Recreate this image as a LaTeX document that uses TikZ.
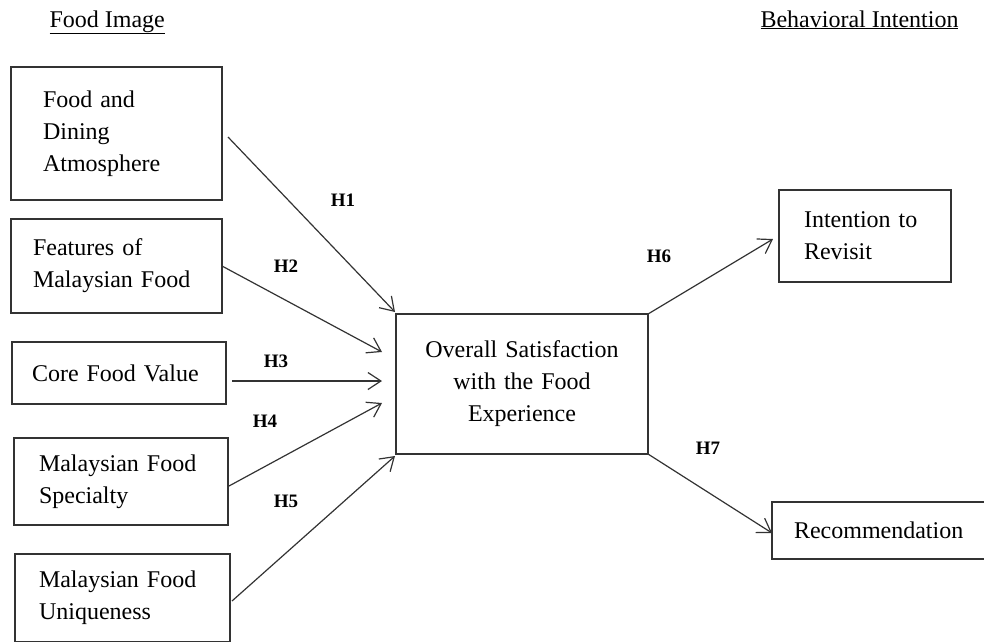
\documentclass[tikz,border=0pt]{standalone}
\usepackage{fontspec}
\setmainfont{Liberation Serif}
\usetikzlibrary{arrows.meta}
\begin{document}
\begin{tikzpicture}[x=1pt,y=-1pt,
  box/.style={draw=black!80, line width=1.3pt, outer sep=0pt, inner ysep=0pt,
              anchor=north west, font=\fontsize{24}{32}\selectfont, align=left},
  arr/.style={draw=black!80, line width=1.2pt,
              -{Straight Barb[length=13pt,width=17pt,line width=1.2pt]}},
  hyp/.style={font=\fontsize{19}{22}\selectfont\bfseries},
  head/.style={font=\fontsize{24}{28}\selectfont, anchor=base west}]
\useasboundingbox (0,0) rectangle (984,641);

% headers
\node[head] (t1) at (46,27) {\underline{Food Image}};
\node[head] (t2) at (757,27) {\underline{Behavioral Intention}};

% left boxes
\node[box, text width=147pt, inner xsep=32pt, minimum height=133pt] (b1) at (11,67)
  {Food and\\Dining\\Atmosphere};
\node[box, text width=167pt, inner xsep=22pt, minimum height=94pt] (b2) at (11,219)
  {Features of\\\mbox{Malaysian Food}};
\node[box, text width=174pt, inner xsep=20pt, minimum height=62pt] (b3) at (12,342)
  {Core Food Value};
\node[box, text width=164pt, inner xsep=25pt, minimum height=87pt] (b4) at (14,438)
  {\mbox{Malaysian Food}\\Specialty};
\node[box, text width=167pt, inner xsep=24pt, minimum height=88pt] (b5) at (15,554)
  {\mbox{Malaysian Food}\\Uniqueness};

% centre
\node[box, align=center, text width=232pt, inner xsep=10pt, minimum height=140pt] (c) at (396,314)
  {Overall Satisfaction\\with the Food\\Experience};

% right boxes
\node[box, text width=122pt, inner xsep=25pt, minimum height=92pt] (b6) at (779,190)
  {\mbox{Intention to}\\Revisit};
\node[box, text width=176pt, inner xsep=22pt, minimum height=57pt] (b7) at (772,502)
  {Recommendation};

% arrows
\draw[arr] ([xshift=6pt,yshift=-3.5pt]b1.east) -- ([xshift=-1pt,yshift=2pt]c.north west);
\draw[arr] (b2.east) -- ([xshift=-14pt,yshift=32pt]c.west);
\draw[arr] ([xshift=6pt,yshift=-8pt]b3.east) -- ([xshift=-14pt,yshift=3pt]c.west);
\draw[arr] ([xshift=1pt,yshift=-4.5pt]b4.east) -- ([xshift=-14pt,yshift=-19pt]c.west);
\draw[arr] ([xshift=2pt,yshift=-3pt]b5.east) -- ([xshift=-1pt,yshift=-2pt]c.south west);
\draw[arr] (c.north east) -- ([xshift=-6pt,yshift=-3pt]b6.west);
\draw[arr] (c.south east) -- ([yshift=-2.5pt]b7.west);

% hypothesis labels
\node[hyp] (h1) at (343,200) {H1};
\node[hyp] (h2) at (286,266) {H2};
\node[hyp] (h3) at (276,361) {H3};
\node[hyp] (h4) at (265,421) {H4};
\node[hyp] (h5) at (286,501) {H5};
\node[hyp] (h6) at (659,256) {H6};
\node[hyp] (h7) at (708,448) {H7};
\end{tikzpicture}
\end{document}
